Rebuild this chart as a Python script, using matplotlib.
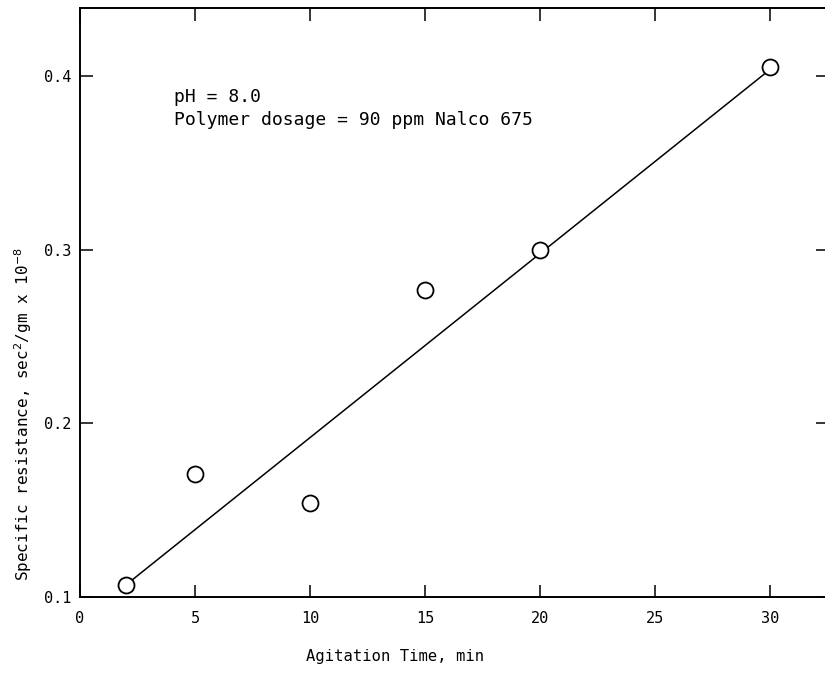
import matplotlib.pyplot as plt

# agitation time (min) vs specific resistance (sec^2/gm x 10^-8)
tiempo = [2, 5, 10, 15, 20, 30]
resistencia = [0.107, 0.171, 0.154, 0.277, 0.300, 0.405]

# fitted straight line
linea_x = [2, 30]
linea_y = [0.107, 0.404]

xticks = [0, 5, 10, 15, 20, 25, 30]
yticks = [0.1, 0.2, 0.3, 0.4]

plt.rcParams['font.family'] = 'DejaVu Sans Mono'

fig = plt.figure(figsize=(8.25, 6.9), dpi=100)
ax = fig.add_axes([80 / 825, 93 / 690, 748 / 825, 589 / 690])

ax.plot(linea_x, linea_y, color='black', lw=1.1, zorder=2)
ax.plot(tiempo, resistencia, 'o', ms=11.5, mfc='white', mec='black', mew=1.3, zorder=3)

ax.set_xlim(0, 32.5)
ax.set_ylim(0.1, 0.4392)
ax.set_xticks(xticks)
ax.set_xticklabels([str(t) for t in xticks])
ax.set_yticks(yticks)
ax.set_yticklabels(['0.1', '0.2', '0.3', '0.4'])
ax.tick_params(direction='in', length=9, width=1.1, top=True, right=True,
               labelsize=11)
ax.tick_params(axis='x', pad=10)
ax.tick_params(axis='y', pad=6)
for s in ax.spines.values():
    s.set_linewidth(1.4)

ax.text(4.1, 0.388, 'pH = 8.0', fontsize=13, va='center')
ax.text(4.1, 0.3746, 'Polymer dosage = 90 ppm Nalco 675', fontsize=13, va='center')

ax.set_xlabel('Agitation Time, min', fontsize=11.2)
ax.xaxis.set_label_coords(0.421, -0.088)
ax.set_ylabel('Specific resistance, sec$^2$/gm x 10$^{-8}$', fontsize=11.5)
ax.yaxis.set_label_coords(-0.061, 0.31)

fig.savefig('out.png', dpi=100)
